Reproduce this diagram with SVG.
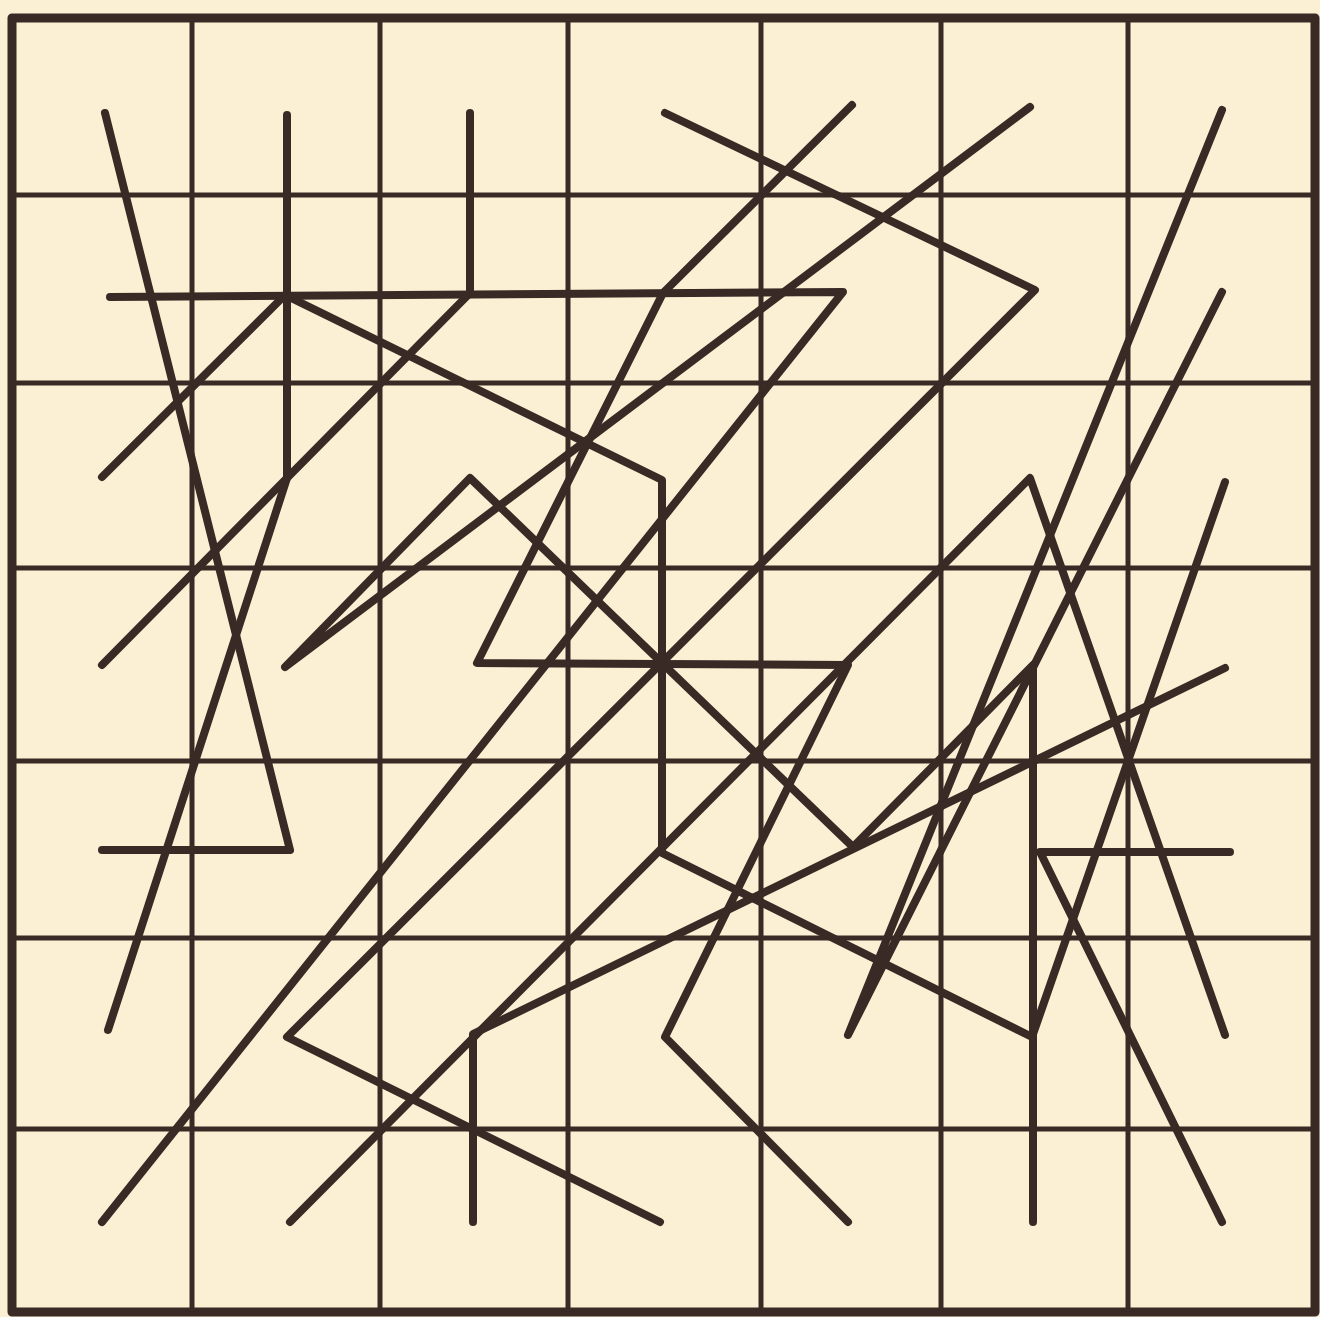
<svg xmlns="http://www.w3.org/2000/svg" width="1320" height="1317" viewBox="0 0 1320 1317">
<style>
.grid{stroke:#3a2a25;stroke-width:5;fill:none;stroke-linecap:square}
.border{stroke:#3a2a25;stroke-width:9;fill:none;stroke-linejoin:round}
.fig{stroke:#3a2a25;stroke-width:8;fill:none;stroke-linecap:round;stroke-linejoin:round}
</style>
<rect x="0" y="0" width="1320" height="1317" fill="#fbf0d4"/>
<g id="grid">
<line class="grid" x1="192" y1="18" x2="192" y2="1312"/>
<line class="grid" x1="380" y1="18" x2="380" y2="1312"/>
<line class="grid" x1="568" y1="18" x2="568" y2="1312"/>
<line class="grid" x1="761" y1="18" x2="761" y2="1312"/>
<line class="grid" x1="941" y1="18" x2="941" y2="1312"/>
<line class="grid" x1="1128" y1="18" x2="1128" y2="1312"/>
<line class="grid" x1="12" y1="195" x2="1315" y2="195"/>
<line class="grid" x1="12" y1="383" x2="1315" y2="383"/>
<line class="grid" x1="12" y1="568" x2="1315" y2="568"/>
<line class="grid" x1="12" y1="761" x2="1315" y2="761"/>
<line class="grid" x1="12" y1="938" x2="1315" y2="938"/>
<line class="grid" x1="12" y1="1129" x2="1315" y2="1129"/>
<rect class="border" x="12" y="18" width="1303" height="1294"/>
</g>
<g id="figures">
<polyline class="fig" points="105,113 290,850 102,850"/>
<polyline class="fig" points="287,115 287,478 108,1030"/>
<polyline class="fig" points="470,113 470,293 102,665"/>
<polyline class="fig" points="110,297 843,292 102,1222"/>
<polyline class="fig" points="102,477 285,295 662,480 662,853 1032,1037 1225,482"/>
<polyline class="fig" points="665,113 1035,290 287,1037 660,1222"/>
<polyline class="fig" points="852,105 663,293 477,663 848,665 665,1037 848,1222"/>
<polyline class="fig" points="1030,107 285,667 470,478 853,847 1033,665 1033,1222"/>
<polyline class="fig" points="1222,110 848,1035 1222,292"/>
<polyline class="fig" points="290,1222 1030,478 1225,1035"/>
<polyline class="fig" points="1225,668 473,1034 473,1222"/>
<polyline class="fig" points="1230,852 1040,852 1222,1222"/>
</g>
</svg>
